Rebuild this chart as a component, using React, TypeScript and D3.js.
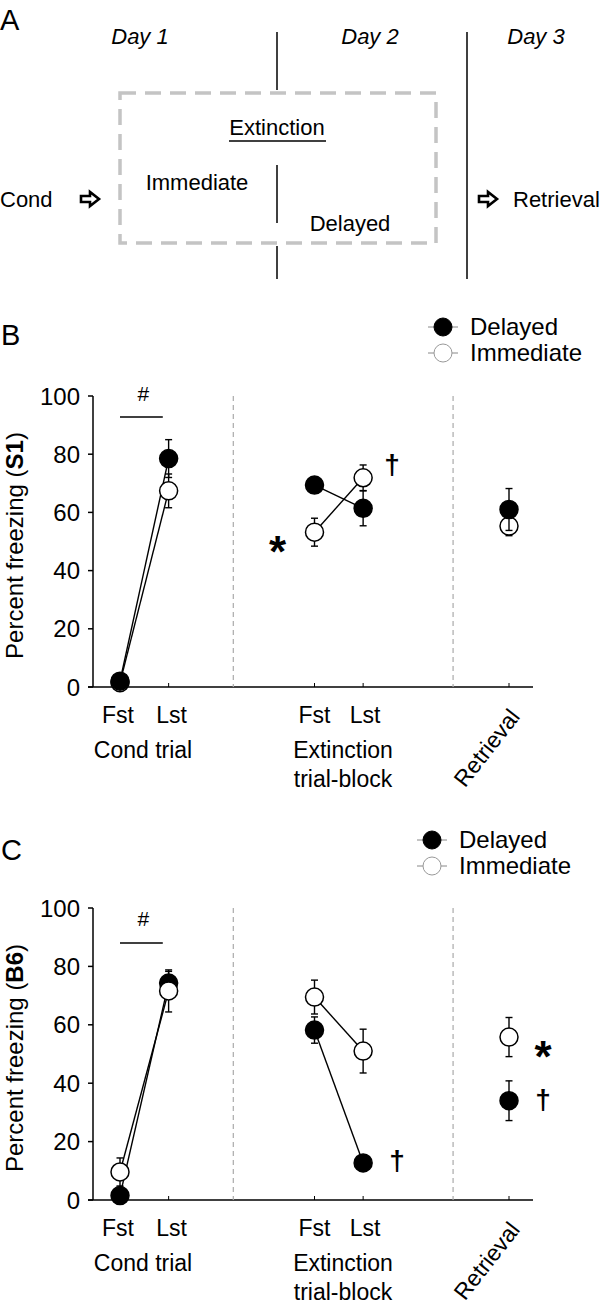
import React from "react";
import * as d3 from "d3";

// ---- data ----
// measurement slots on the timeline: Cond Fst, Cond Lst, Ext Fst, Ext Lst, Retrieval
const slots = [0, 1, 4, 5, 8];
const dividerSlots = [2.33, 6.85];
const yTicks = [0, 20, 40, 60, 80, 100];
const seriesNames = ["Delayed", "Immediate"];

// Panel B (S1)
const delayedS1 = [2, 78.5, 69.4, 61.4, 61];
const delayedS1Err = [1, 6.5, 2.5, 6, 7.2];
const immediateS1 = [1.5, 67.4, 53.2, 71.9, 55.3];
const immediateS1Err = [1, 5.8, 4.8, 4.4, 3.3];

// Panel C (B6)
const delayedB6 = [1.5, 74.3, 58.2, 12.7, 34];
const delayedB6Err = [1, 4, 4.5, 2, 6.8];
const immediateB6 = [9.6, 71.6, 69.5, 51, 55.8];
const immediateB6Err = [4.8, 7.2, 5.8, 7.5, 6.7];

const FONT = "'Liberation Sans', Arial, Helvetica, sans-serif";

const x = d3.scaleLinear().domain([0, 8]).range([120, 509]);

function Arrow({ x0, y0 }: { x0: number; y0: number }) {
  const p = d3.path();
  p.moveTo(x0, y0 - 3);
  p.lineTo(x0 + 9, y0 - 3);
  p.lineTo(x0 + 9, y0 - 7);
  p.lineTo(x0 + 18, y0);
  p.lineTo(x0 + 9, y0 + 7);
  p.lineTo(x0 + 9, y0 + 3);
  p.lineTo(x0, y0 + 3);
  p.closePath();
  return <path d={p.toString()} fill="#fff" stroke="#000" strokeWidth={2.6} strokeLinejoin="miter" />;
}

function PanelA() {
  return (
    <g fontFamily={FONT} fill="#000">
      <text x={0} y={30} fontSize={29}>A</text>
      <text x={140} y={36} fontSize={22} fontStyle="italic" textAnchor="middle" dy="0.35em">Day 1</text>
      <text x={370} y={36} fontSize={22} fontStyle="italic" textAnchor="middle" dy="0.35em">Day 2</text>
      <text x={536} y={36} fontSize={22} fontStyle="italic" textAnchor="middle" dy="0.35em">Day 3</text>
      <line x1={277} x2={277} y1={32} y2={90} stroke="#000" strokeWidth={1.5} />
      <line x1={277} x2={277} y1={165} y2={223} stroke="#000" strokeWidth={1.5} />
      <line x1={277} x2={277} y1={246} y2={279} stroke="#000" strokeWidth={1.5} />
      <line x1={467} x2={467} y1={32} y2={279} stroke="#000" strokeWidth={1.5} />
      <rect x={120} y={93} width={316} height={150} fill="none" stroke="#c4c4c4" strokeWidth={3.5} strokeDasharray="16 9" />
      <text x={277} y={127} fontSize={22} textAnchor="middle" dy="0.35em">Extinction</text>
      <line x1={229} x2={326} y1={141} y2={141} stroke="#000" strokeWidth={1.5} />
      <text x={197} y={182} fontSize={22} textAnchor="middle" dy="0.35em">Immediate</text>
      <text x={350} y={223} fontSize={22} textAnchor="middle" dy="0.35em">Delayed</text>
      <text x={0} y={199} fontSize={22} dy="0.35em">Cond</text>
      <Arrow x0={81} y0={199} />
      <Arrow x0={479} y0={199} />
      <text x={513} y={199} fontSize={22} dy="0.35em">Retrieval</text>
    </g>
  );
}

type PanelProps = {
  letter: string;
  letterY: number;
  top: number;
  bottom: number;
  strain: string;
  delayed: number[];
  delayedErr: number[];
  immediate: number[];
  immediateErr: number[];
  legendX: number;
  legendY: number;
  hashY: number;
  hashBarY: number;
  delayedOnTop: boolean;
  marks: { sym: string; slot: number; dx: number; v: number }[];
};

function Panel(props: PanelProps) {
  const { letter, letterY, top, bottom, strain, delayed, delayedErr, immediate, immediateErr, legendX, legendY } = props;
  const y = d3.scaleLinear().domain([0, 100]).range([bottom, top]);
  const y0 = y(0);
  const r = 9;
  const line = d3.line<[number, number]>().x((d) => d[0]).y((d) => d[1]);
  const series = [
    { name: seriesNames[0], vals: delayed, errs: delayedErr, fill: "#000" },
    { name: seriesNames[1], vals: immediate, errs: immediateErr, fill: "#fff" },
  ];
  const drawOrder = props.delayedOnTop ? [series[1], series[0]] : [series[0], series[1]];
  return (
    <g fontFamily={FONT} fill="#000">
      <text x={1} y={letterY} fontSize={29}>{letter}</text>
      {/* legend */}
      {series.map((s, i) => (
        <g key={s.name}>
          <line x1={legendX - 15} x2={legendX + 15} y1={legendY + i * 26} y2={legendY + i * 26} stroke="#888" strokeWidth={1} />
          <circle cx={legendX} cy={legendY + i * 26} r={r} fill={s.fill} stroke={i === 0 ? "#000" : "#999"} strokeWidth={1} />
          <text x={legendX + 27} y={legendY + i * 26} fontSize={24} dy="0.35em">{s.name}</text>
        </g>
      ))}
      {/* y label */}
      <text transform={`translate(${23},${(top + bottom) / 2 + 4}) rotate(-90)`} fontSize={24} textAnchor="middle">
        Percent freezing (<tspan fontWeight="bold">{strain}</tspan>)
      </text>
      {/* y axis */}
      <line x1={93} x2={93} y1={y(0)} y2={y(100)} stroke="#000" strokeWidth={1.5} />
      {yTicks.map((t) => (
        <g key={t}>
          <line x1={88} x2={93} y1={y(t)} y2={y(t)} stroke="#000" strokeWidth={1.5} />
          <text x={80} y={y(t)} fontSize={24} textAnchor="end" dy="0.36em">{t}</text>
        </g>
      ))}
      {/* x axis */}
      <line x1={88} x2={533} y1={y0} y2={y0} stroke="#000" strokeWidth={1.5} />
      {slots.map((s) => (
        <line key={s} x1={x(s)} x2={x(s)} y1={y0} y2={y0 - 4} stroke="#000" strokeWidth={1} />
      ))}
      {dividerSlots.map((d) => (
        <line key={d} x1={x(d)} x2={x(d)} y1={y(100)} y2={y0} stroke="#aaa" strokeWidth={1.2} strokeDasharray="5 4" />
      ))}
      {/* x labels */}
      <text x={x(slots[0]) - 2} y={y0 + 28} fontSize={23} textAnchor="middle" dy="0.35em">Fst</text>
      <text x={x(slots[1]) + 3} y={y0 + 28} fontSize={23} textAnchor="middle" dy="0.35em">Lst</text>
      <text x={143} y={y0 + 63} fontSize={23} textAnchor="middle" dy="0.35em">Cond trial</text>
      <text x={x(slots[2])} y={y0 + 28} fontSize={23} textAnchor="middle" dy="0.35em">Fst</text>
      <text x={x(slots[3]) + 2} y={y0 + 28} fontSize={23} textAnchor="middle" dy="0.35em">Lst</text>
      <text x={343} y={y0 + 63} fontSize={23} textAnchor="middle" dy="0.35em">Extinction</text>
      <text x={343} y={y0 + 92} fontSize={23} textAnchor="middle" dy="0.35em">trial-block</text>
      <text transform={`translate(${521},${y0 + 30}) rotate(-52)`} fontSize={23} textAnchor="end">Retrieval</text>
      {/* # annotation */}
      <text x={x(0.48)} y={y(props.hashY)} fontSize={21} textAnchor="middle" dy="0.35em">#</text>
      <line x1={x(0)} x2={x(0.88)} y1={y(props.hashBarY)} y2={y(props.hashBarY)} stroke="#000" strokeWidth={1.5} />
      {/* connecting lines */}
      {series.map((s) => (
        <g key={"l" + s.name}>
          <path d={line([[x(slots[0]), y(s.vals[0])], [x(slots[1]), y(s.vals[1])]]) || ""} fill="none" stroke="#000" strokeWidth={1.4} />
          <path d={line([[x(slots[2]), y(s.vals[2])], [x(slots[3]), y(s.vals[3])]]) || ""} fill="none" stroke="#000" strokeWidth={1.4} />
        </g>
      ))}
      {/* error bars + markers */}
      {drawOrder.map((s) => (
        <g key={"m" + s.name}>
          {s.vals.map((v, i) => {
            const cx = x(slots[i]);
            const hi = y(v + s.errs[i]);
            const lo = y(Math.max(0, v - s.errs[i]));
            return (
              <g key={i}>
                <line x1={cx} x2={cx} y1={hi} y2={lo} stroke="#000" strokeWidth={1.4} />
                <line x1={cx - 3.5} x2={cx + 3.5} y1={hi} y2={hi} stroke="#000" strokeWidth={1.4} />
                <line x1={cx - 3.5} x2={cx + 3.5} y1={lo} y2={lo} stroke="#000" strokeWidth={1.4} />
                <circle cx={cx} cy={y(v)} r={r} fill={s.fill} stroke="#000" strokeWidth={1.5} />
              </g>
            );
          })}
        </g>
      ))}
      {/* significance marks */}
      {props.marks.map((m, i) =>
        m.sym === "*" ? (
          <text key={i} x={x(m.slot) + m.dx} y={y(m.v) + 24} fontSize={44} fontWeight="bold" textAnchor="middle">*</text>
        ) : (
          <text key={i} x={x(m.slot) + m.dx} y={y(m.v) + 8} fontSize={28} fontWeight="bold" textAnchor="middle">†</text>
        )
      )}
    </g>
  );
}

export default function App() {
  return (
    <svg width={600} height={1305} style={{ position: "absolute", left: 0, top: 0, background: "#fff" }}>
      <rect width={600} height={1305} fill="#fff" />
      <PanelA />
      <Panel
        letter="B"
        letterY={345}
        top={396}
        bottom={687}
        strain="S1"
        delayed={delayedS1}
        delayedErr={delayedS1Err}
        immediate={immediateS1}
        immediateErr={immediateS1Err}
        legendX={443}
        legendY={327}
        hashY={100.7}
        hashBarY={92.8}
        delayedOnTop={true}
        marks={[
          { sym: "*", slot: 4, dx: -37, v: 49.5 },
          { sym: "†", slot: 5, dx: 29, v: 76 },
        ]}
      />
      <Panel
        letter="C"
        letterY={860}
        top={908}
        bottom={1200}
        strain="B6"
        delayed={delayedB6}
        delayedErr={delayedB6Err}
        immediate={immediateB6}
        immediateErr={immediateB6Err}
        legendX={432}
        legendY={840}
        hashY={96.2}
        hashBarY={88}
        delayedOnTop={false}
        marks={[
          { sym: "*", slot: 8, dx: 34, v: 52 },
          { sym: "†", slot: 8, dx: 34, v: 34 },
          { sym: "†", slot: 5, dx: 34, v: 13 },
        ]}
      />
    </svg>
  );
}
